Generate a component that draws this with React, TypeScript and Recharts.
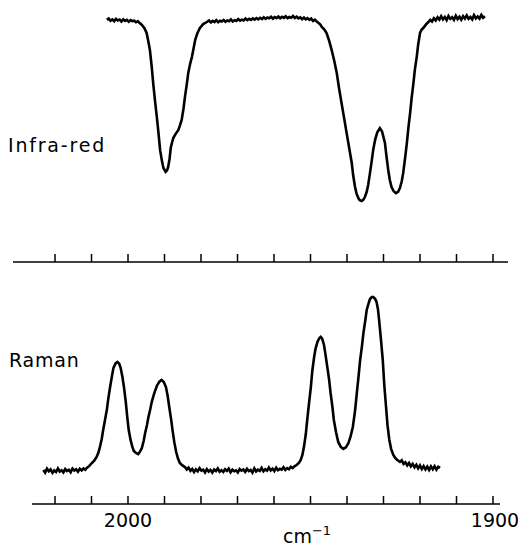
import React from 'react';
import { LineChart, Line, XAxis, YAxis, Customized } from 'recharts';

// Wavenumber ticks (cm-1) and labelled ticks
const axisTicks = [2020, 2010, 2000, 1990, 1980, 1970, 1960, 1950, 1940, 1930, 1920, 1910, 1900];
const labelledTicks = [2000, 1900];
const panelLabels = ['Infra-red', 'Raman'];
const axisTitle = 'cm';

// Infra-red transmission spectrum: [wavenumber, transmittance %]
const irSpectrum: [number, number][] = [
  [2005.8, 92.4], [2005.3, 92.9], [2004.8, 92.1], [2004.3, 92.6], [2003.8, 91.9], [2003.3, 92.8],
  [2002.8, 92.2], [2002.3, 92.5], [2001.8, 91.8], [2001.3, 92.6], [2000.8, 92.0], [2000.3, 92.4],
  [1999.8, 91.7], [1999.3, 92.3], [1998.8, 91.9], [1998.3, 92.1], [1997.8, 91.5], [1997.3, 91.9],
  [1996.8, 91.2], [1996.2, 90.5], [1995.5, 89.2], [1994.9, 87.4], [1994.4, 84.0], [1994.0, 80.9],
  [1993.5, 74.5], [1993.1, 68.3], [1992.6, 61.5], [1992.1, 55.3], [1991.6, 48.5], [1991.2, 42.7],
  [1990.7, 38.5], [1990.3, 35.9], [1989.7, 34.4], [1989.3, 35.0], [1989.0, 36.3], [1988.6, 39.5],
  [1988.3, 43.5], [1987.9, 45.8], [1987.6, 47.3], [1986.9, 49.0], [1986.2, 50.4], [1985.8, 52.0],
  [1985.3, 54.2], [1984.8, 58.5], [1984.4, 63.0], [1983.9, 67.8], [1983.5, 72.1], [1983.0, 75.5],
  [1982.5, 78.2], [1982.0, 81.8], [1981.6, 84.7], [1981.0, 87.3], [1980.3, 89.3], [1979.4, 90.8],
  [1978.4, 91.6], [1977.8, 92.2], [1977.3, 91.4], [1976.8, 92.0], [1976.3, 91.6], [1975.8, 92.3],
  [1975.3, 91.5], [1974.8, 92.1], [1974.3, 91.8], [1973.8, 92.4], [1973.3, 91.7], [1972.8, 92.2],
  [1972.3, 91.9], [1971.8, 92.6], [1971.3, 91.8], [1970.8, 92.3], [1970.3, 92.0], [1969.8, 92.7],
  [1969.3, 92.1], [1968.8, 92.5], [1968.3, 92.2], [1967.8, 92.9], [1967.3, 92.3], [1966.8, 92.8],
  [1966.3, 92.4], [1965.8, 93.0], [1965.3, 92.5], [1964.8, 93.1], [1964.3, 92.6], [1963.8, 93.2],
  [1963.3, 92.7], [1962.8, 93.4], [1962.3, 92.8], [1961.8, 93.3], [1961.3, 93.0], [1960.8, 93.6],
  [1960.3, 92.9], [1959.8, 93.5], [1959.3, 93.1], [1958.8, 93.7], [1958.3, 93.0], [1957.8, 93.6],
  [1957.3, 93.2], [1956.8, 93.8], [1956.3, 93.1], [1955.8, 93.5], [1955.3, 93.2], [1954.8, 93.9],
  [1954.3, 93.1], [1953.8, 93.6], [1953.3, 93.0], [1952.8, 93.4], [1952.3, 92.7], [1951.8, 93.3],
  [1951.3, 92.6], [1950.8, 93.1], [1950.3, 92.4], [1949.8, 92.9], [1949.3, 92.0], [1948.8, 92.5],
  [1948.3, 91.8], [1947.8, 91.2], [1947.3, 90.6], [1946.9, 89.7], [1946.2, 88.7], [1945.6, 87.4],
  [1944.9, 84.5], [1944.2, 80.9], [1943.5, 76.8], [1942.8, 72.1], [1942.2, 66.5], [1941.5, 60.7],
  [1940.8, 55.0], [1940.1, 49.2], [1939.4, 43.5], [1938.7, 37.8], [1938.3, 33.0], [1937.8, 28.6],
  [1937.4, 26.2], [1936.9, 24.4], [1936.5, 23.6], [1936.0, 23.3], [1935.5, 23.8], [1935.1, 24.8],
  [1934.6, 26.8], [1934.2, 29.4], [1933.7, 34.0], [1933.2, 38.9], [1932.8, 43.0], [1932.3, 46.6],
  [1931.7, 49.5], [1931.0, 51.1], [1930.4, 49.8], [1929.6, 45.4], [1929.2, 40.5], [1928.7, 35.1],
  [1928.3, 31.5], [1927.8, 28.6], [1927.2, 27.0], [1926.6, 26.3], [1926.0, 26.8], [1925.5, 28.2],
  [1925.0, 30.8], [1924.6, 34.0], [1924.1, 39.5], [1923.6, 45.4], [1923.2, 51.0], [1922.7, 56.9],
  [1922.3, 62.5], [1921.8, 68.3], [1921.4, 73.5], [1920.9, 78.2], [1920.5, 83.0], [1920.0, 87.4],
  [1919.6, 88.6], [1919.1, 89.3], [1918.4, 90.6], [1917.7, 91.6], [1917.2, 92.4], [1916.7, 91.8],
  [1916.2, 93.0], [1915.7, 92.2], [1915.2, 93.4], [1914.7, 92.5], [1914.2, 93.8], [1913.7, 92.6],
  [1913.2, 93.5], [1912.7, 92.3], [1912.2, 93.9], [1911.7, 92.8], [1911.2, 93.4], [1910.7, 92.4],
  [1910.2, 94.0], [1909.7, 92.7], [1909.2, 93.6], [1908.7, 92.5], [1908.2, 93.8], [1907.7, 92.9],
  [1907.2, 94.1], [1906.7, 92.8], [1906.2, 93.5], [1905.7, 92.6], [1905.2, 94.2], [1904.7, 93.0],
  [1904.2, 93.7], [1903.7, 92.9], [1903.2, 94.3], [1902.7, 93.2], [1902.2, 93.8],
];

// Raman spectrum: [wavenumber, intensity]
const ramanSpectrum: [number, number][] = [
  [2023.2, 15.2], [2022.7, 14.0], [2022.2, 15.8], [2021.7, 14.6], [2021.2, 15.4], [2020.7, 13.9],
  [2020.2, 15.0], [2019.7, 14.3], [2019.2, 15.9], [2018.7, 14.5], [2018.2, 15.1], [2017.7, 14.1],
  [2017.2, 15.6], [2016.7, 14.7], [2016.2, 15.3], [2015.7, 14.2], [2015.2, 15.8], [2014.7, 14.9],
  [2014.2, 15.5], [2013.7, 14.4], [2013.2, 15.7], [2012.7, 15.0], [2012.2, 15.9], [2011.7, 15.3],
  [2011.3, 16.1], [2010.6, 17.0], [2009.9, 18.3], [2009.2, 19.5], [2008.6, 21.0], [2008.1, 23.0],
  [2007.7, 25.4], [2007.2, 29.0], [2006.8, 33.0], [2006.3, 37.5], [2005.8, 42.0], [2005.4, 47.0],
  [2004.9, 52.2], [2004.4, 57.0], [2004.0, 60.7], [2003.4, 62.8], [2002.9, 63.4], [2002.4, 62.6],
  [2002.0, 60.7], [2001.5, 56.5], [2001.1, 52.2], [2000.6, 45.5], [2000.2, 38.8], [1999.8, 33.0],
  [1999.3, 28.6], [1998.8, 25.5], [1998.4, 23.7], [1997.8, 22.8], [1997.2, 22.3], [1996.7, 23.4],
  [1996.2, 25.0], [1995.7, 28.2], [1995.3, 31.7], [1994.8, 35.3], [1994.4, 38.8], [1993.9, 42.3],
  [1993.5, 45.5], [1992.8, 49.5], [1992.1, 52.7], [1991.4, 54.6], [1990.8, 55.4], [1990.2, 54.5],
  [1989.6, 52.2], [1989.1, 48.0], [1988.7, 43.3], [1988.2, 38.0], [1987.8, 33.0], [1987.3, 27.5],
  [1986.8, 23.2], [1986.3, 20.3], [1985.8, 18.3], [1985.1, 17.2], [1984.4, 16.5], [1983.9, 15.4],
  [1983.4, 16.2], [1982.9, 14.8], [1982.4, 15.7], [1981.9, 14.3], [1981.4, 15.5], [1980.9, 14.6],
  [1980.4, 16.0], [1979.9, 14.9], [1979.4, 15.3], [1978.9, 14.1], [1978.4, 15.6], [1977.9, 14.5],
  [1977.4, 15.2], [1976.9, 14.0], [1976.4, 15.4], [1975.9, 14.7], [1975.4, 15.9], [1974.9, 14.4],
  [1974.4, 15.1], [1973.9, 14.3], [1973.4, 15.5], [1972.9, 14.8], [1972.4, 15.8], [1971.9, 14.2],
  [1971.4, 15.3], [1970.9, 14.6], [1970.4, 15.0], [1969.9, 14.1], [1969.4, 15.6], [1968.9, 14.9],
  [1968.4, 15.4], [1967.9, 14.3], [1967.4, 15.7], [1966.9, 14.7], [1966.4, 15.2], [1965.9, 14.0],
  [1965.4, 15.9], [1964.9, 14.5], [1964.4, 15.3], [1963.9, 14.8], [1963.4, 16.1], [1962.9, 14.6],
  [1962.4, 15.5], [1961.9, 14.9], [1961.4, 16.3], [1960.9, 15.0], [1960.4, 15.8], [1959.9, 14.7],
  [1959.4, 16.2], [1958.9, 15.1], [1958.4, 15.7], [1957.9, 15.3], [1957.4, 16.4], [1956.9, 15.2],
  [1956.4, 16.0], [1955.9, 15.5], [1955.4, 16.6], [1954.9, 16.0], [1954.4, 16.8], [1953.8, 17.4],
  [1953.2, 18.3], [1952.7, 19.6], [1952.2, 22.0], [1951.8, 25.4], [1951.3, 31.0], [1950.9, 37.5],
  [1950.4, 45.0], [1949.9, 52.2], [1949.5, 59.5], [1949.0, 65.6], [1948.6, 69.5], [1948.1, 72.3],
  [1947.6, 74.0], [1947.2, 74.6], [1946.8, 73.8], [1946.3, 71.0], [1945.9, 66.8], [1945.4, 61.2],
  [1944.9, 55.5], [1944.5, 49.6], [1944.0, 43.5], [1943.6, 37.5], [1943.0, 32.0], [1942.4, 27.7],
  [1941.7, 25.5], [1941.0, 24.6], [1940.3, 25.3], [1939.6, 27.2], [1939.0, 30.3], [1938.4, 34.4],
  [1937.8, 41.5], [1937.3, 49.6], [1936.8, 57.5], [1936.4, 64.3], [1935.9, 70.5], [1935.5, 76.3],
  [1935.0, 81.8], [1934.6, 86.6], [1934.1, 89.5], [1933.7, 91.5], [1933.2, 92.4], [1932.8, 92.4],
  [1932.3, 91.6], [1931.9, 90.2], [1931.5, 86.8], [1931.2, 82.1], [1930.7, 73.5], [1930.2, 64.3],
  [1929.8, 53.5], [1929.3, 43.3], [1928.9, 35.2], [1928.4, 28.6], [1927.9, 24.5], [1927.3, 21.9],
  [1926.8, 20.6], [1926.3, 19.7], [1925.5, 18.8], [1925.0, 19.5], [1924.5, 17.9], [1924.0, 18.6],
  [1923.5, 17.2], [1923.0, 18.3], [1922.5, 16.8], [1922.0, 17.9], [1921.5, 16.4], [1921.0, 17.5],
  [1920.5, 15.9], [1920.0, 17.2], [1919.5, 15.6], [1919.0, 16.9], [1918.5, 15.4], [1918.0, 16.7],
  [1917.5, 15.2], [1917.0, 16.8], [1916.5, 15.5], [1916.0, 16.9], [1915.5, 15.3], [1915.0, 16.6],
  [1914.5, 16.1],
];

const irData = irSpectrum.map(([nu, t]) => ({ nu, t }));
const ramanData = ramanSpectrum.map(([nu, i]) => ({ nu, i }));

const FONT = '"DejaVu Sans", sans-serif';

const makeTick = (showLabels: boolean) => (props: any) => {
  const { x, y, payload } = props;
  const labelled = showLabels && labelledTicks.includes(payload.value);
  return (
    <g>
      <line x1={x} x2={x} y1={y} y2={y - 8} stroke="#000" strokeWidth={1.5} />
      {labelled && (
        <text x={x + (payload.value === 1900 ? 2 : 0)} y={y + 23} textAnchor="middle" fontFamily={FONT} fontSize={19} fill="#000">
          {payload.value}
        </text>
      )}
    </g>
  );
};

export default function App() {
  return (
    <div style={{ position: 'absolute', left: 0, top: 0, width: 519, height: 547, background: '#fff' }}>
      <div style={{ position: 'absolute', left: 0, top: 0 }}>
        <LineChart width={519} height={280} data={irData} margin={{ top: 0, right: 11, bottom: 0, left: 13 }}>
          <XAxis
            dataKey="nu"
            type="number"
            domain={[1895.89, 2031.51]}
            reversed
            allowDataOverflow
            ticks={axisTicks}
            interval={0}
            height={18}
            tickSize={0}
            tickMargin={0}
            tickLine={false}
            axisLine={{ stroke: '#000', strokeWidth: 1.5 }}
            tick={makeTick(false)}
          />
          <YAxis hide type="number" domain={[0, 100]} allowDataOverflow />
          <Line dataKey="t" type="linear" stroke="#000" strokeWidth={2.6} dot={false} isAnimationActive={false} />
          <Customized
            component={() => (
              <text x={8} y={152} fontFamily={FONT} fontSize={19} letterSpacing={1.8} fill="#000">
                {panelLabels[0]}
              </text>
            )}
          />
        </LineChart>
      </div>
      <div style={{ position: 'absolute', left: 0, top: 280 }}>
        <LineChart width={519} height={267} data={ramanData} margin={{ top: 0, right: 19, bottom: 0, left: 32 }}>
          <XAxis
            dataKey="nu"
            type="number"
            domain={[1898.08, 2026.3]}
            reversed
            allowDataOverflow
            ticks={axisTicks}
            interval={0}
            height={43}
            tickSize={0}
            tickMargin={0}
            tickLine={false}
            axisLine={{ stroke: '#000', strokeWidth: 1.5 }}
            tick={makeTick(true)}
          />
          <YAxis hide type="number" domain={[0, 100]} allowDataOverflow />
          <Line dataKey="i" type="linear" stroke="#000" strokeWidth={2.6} dot={false} isAnimationActive={false} />
          <Customized
            component={() => (
              <g>
                <text x={9} y={87} fontFamily={FONT} fontSize={19} letterSpacing={0.8} fill="#000">
                  {panelLabels[1]}
                </text>
                <text x={283} y={263} fontFamily={FONT} fontSize={19} fill="#000">
                  {axisTitle}
                  <tspan dy={-8} fontSize={13}>{'\u22121'}</tspan>
                </text>
              </g>
            )}
          />
        </LineChart>
      </div>
    </div>
  );
}
